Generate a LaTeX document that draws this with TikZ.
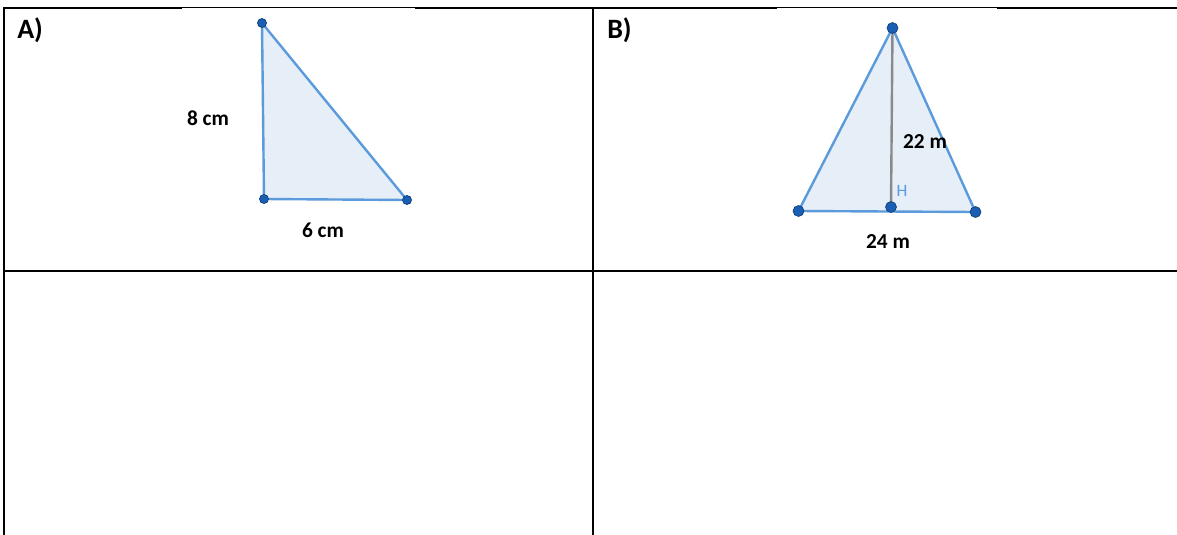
\documentclass[tikz,border=0pt]{standalone}
\usepackage{fontspec}
\setmainfont{Carlito}
\usepackage{tikz}

\begin{document}
\begin{tikzpicture}[x=0.75pt,y=-0.75pt]

% Colori
\definecolor{colLato}{HTML}{5B9BDB}
\definecolor{colArea}{HTML}{E6EEF8}
\definecolor{colPunto}{HTML}{1A5FB4}
\definecolor{colAltezza}{HTML}{8A8A8A}

\tikzset{
  bordo/.style={black, line width=1.6pt},
  bordoSottile/.style={black, line width=0.7pt},
  lato/.style={draw=colLato, fill=colArea, line width=1.8pt, line join=round},
  altezza/.style={draw=colAltezza, line width=1.8pt},
  punto/.style={circle, fill=colPunto, draw=colPunto!65!black, line width=0.5pt, inner sep=0pt, minimum size=6.8pt},
  puntoB/.style={punto, minimum size=8.2pt},
  titolo/.style={font=\fontsize{21}{23}\selectfont\bfseries, anchor=west, inner sep=0pt},
  misura/.style={font=\fontsize{16}{18}\selectfont\bfseries, inner sep=0pt},
  etichetta/.style={font=\fontsize{13}{15}\selectfont, text=colLato, inner sep=0pt}
}

\useasboundingbox (0,0) rectangle (1177,535);

% Tabella
\draw[bordo] (4,535) -- (4,8) -- (182,8);
\draw[bordoSottile] (182,7.5) -- (415,7.5);
\draw[bordo] (415,8) -- (777,8);
\draw[bordoSottile] (777,7.5) -- (997,7.5);
\draw[bordo] (997,8) -- (1177,8);
\draw[bordo] (593,8) -- (593,535);
\draw[bordo] (4,271) -- (1177,271);

% Titoli
\node[titolo] (tA) at (17,30) {A)};
\node[titolo] (tB) at (607,30) {B)};

% Triangolo A
\coordinate (A1) at (262,23);
\coordinate (A2) at (264,199);
\coordinate (A3) at (407,200);
\draw[lato] (A1) -- (A2) -- (A3) -- cycle;
\node[punto] (pA1) at (A1) {};
\node[punto] (pA2) at (A2) {};
\node[punto] (pA3) at (A3) {};
\node[misura] (lA1) at (208,118) {8 cm};
\node[misura] (lA2) at (323,230) {6 cm};

% Triangolo B
\coordinate (B1) at (892.5,28);
\coordinate (B2) at (798.5,211);
\coordinate (B3) at (975.5,212);
\coordinate (H) at (891,207);
\draw[lato] (B1) -- (B2) -- (B3) -- cycle;
\draw[altezza] (B1) -- (H);
\node[puntoB] (pB1) at (B1) {};
\node[puntoB] (pB2) at (B2) {};
\node[puntoB] (pB3) at (B3) {};
\node[puntoB] (pH) at (H) {};
\node[etichetta] (lH) at (902,191) {H};
\node[misura] (lB1) at (925,142) {22 m};
\node[misura] (lB2) at (888,242) {24 m};

\end{tikzpicture}
\end{document}
